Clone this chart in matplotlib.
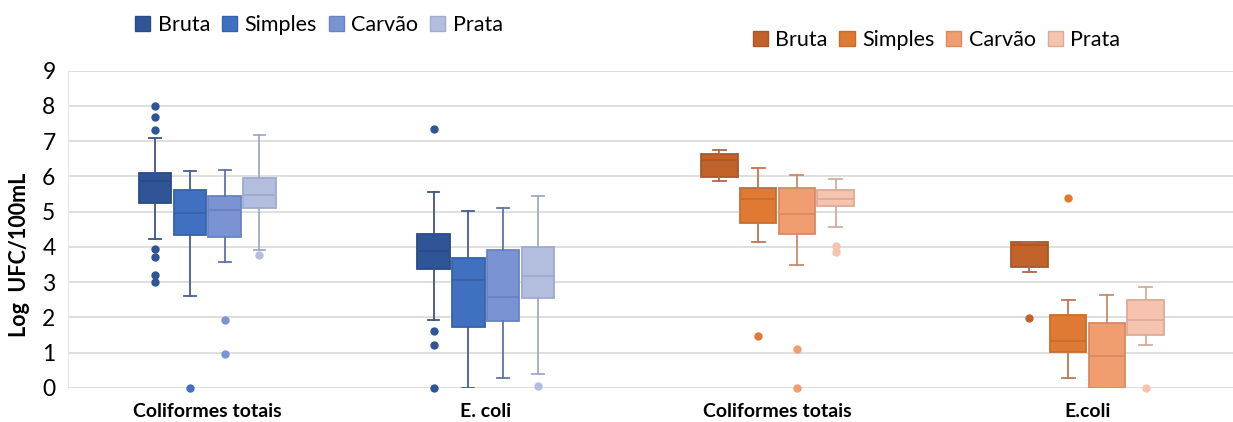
import matplotlib
matplotlib.use('Agg')
import matplotlib.pyplot as plt
from matplotlib.patches import Patch

plt.rcParams['font.family'] = ['Lato', 'DejaVu Sans']

series = ['Bruta', 'Simples', 'Carvão', 'Prata']
cats_left = ['Coliformes totais', 'E. coli']
cats_right = ['Coliformes totais', 'E.coli']
y_ticks = [0, 1, 2, 3, 4, 5, 6, 7, 8, 9]

# box stats, one row per category, one value per series
blue_whislo = [[4.21, 2.60, 3.57, 3.90], [1.94, 0.00, 0.29, 0.40]]
blue_q1 = [[5.25, 4.33, 4.28, 5.09], [3.38, 1.74, 1.89, 2.55]]
blue_med = [[5.87, 4.97, 5.05, 5.47], [3.88, 3.06, 2.59, 3.18]]
blue_q3 = [[6.10, 5.60, 5.45, 5.95], [4.36, 3.69, 3.91, 4.01]]
blue_whishi = [[7.10, 6.16, 6.18, 7.18], [5.57, 5.01, 5.09, 5.45]]
blue_fliers = [[[8.0, 7.67, 7.30, 3.93, 3.72, 3.20, 3.01], [0.0], [1.94, 0.95], [3.76]],
               [[7.33, 1.62, 1.21, 0.0], [], [], [0.05]]]

orange_whislo = [[5.87, 4.15, 3.48, 4.57], [3.29, 0.28, 0.00, 1.21]]
orange_q1 = [[5.98, 4.68, 4.37, 5.16], [3.42, 1.03, 0.00, 1.51]]
orange_med = [[6.45, 5.37, 4.92, 5.35], [4.05, 1.32, 0.92, 1.93]]
orange_q3 = [[6.64, 5.66, 5.66, 5.62], [4.15, 2.08, 1.83, 2.49]]
orange_whishi = [[6.76, 6.24, 6.05, 5.92], [4.15, 2.49, 2.65, 2.85]]
orange_fliers = [[[], [1.46], [1.11, 0.0], [4.02, 3.86]],
                 [[1.99], [5.39], [], [0.0]]]

blue_fill = ['#2f5597', '#4070c0', '#7a93d2', '#b3bedf']
blue_edge = ['#2a4b86', '#3561ad', '#6a83c2', '#9eaad0']
blue_whisk = ['#3d5285', '#445d99', '#5f73a8', '#a0a9c8']
orange_fill = ['#c0622a', '#e07a32', '#f09d6f', '#f6c3ae']
orange_edge = ['#a9582a', '#c66d30', '#d88a62', '#dcaa98']
orange_whisk = ['#b06a45', '#c07650', '#c98a6c', '#d6ad9c']

fig = plt.figure(figsize=(12.33, 4.22), dpi=100)
ax_l = fig.add_axes([68 / 1233, 1 - 388 / 422, 557 / 1233, 317.5 / 422])
ax_r = fig.add_axes([622.5 / 1233, 1 - 388 / 422, 620 / 1233, 317.5 / 422])


def draw(ax, whislo, q1, med, q3, whishi, fliers, fill, edge, whisk):
    step = 0.125
    for i in range(len(series)):
        stats = []
        for c in range(2):
            stats.append(dict(whislo=whislo[c][i], q1=q1[c][i], med=med[c][i],
                              q3=q3[c][i], whishi=whishi[c][i], fliers=fliers[c][i]))
        pos = [c + (i - 1.5) * step for c in range(2)]
        ax.bxp(stats, positions=pos, widths=0.117, patch_artist=True,
               showfliers=True, manage_ticks=False, capwidths=0.042,
               boxprops=dict(facecolor=fill[i], edgecolor=edge[i], linewidth=1.3),
               medianprops=dict(color=edge[i], linewidth=1.3),
               whiskerprops=dict(color=whisk[i], linewidth=1.3),
               capprops=dict(color=whisk[i], linewidth=1.3),
               flierprops=dict(marker='o', markersize=5, markerfacecolor=fill[i],
                               markeredgecolor=fill[i], clip_on=False))


draw(ax_l, blue_whislo, blue_q1, blue_med, blue_q3, blue_whishi, blue_fliers,
     blue_fill, blue_edge, blue_whisk)
draw(ax_r, orange_whislo, orange_q1, orange_med, orange_q3, orange_whishi, orange_fliers,
     orange_fill, orange_edge, orange_whisk)

for ax, cats in [(ax_l, cats_left), (ax_r, cats_right)]:
    ax.set_xlim(-0.5, 1.5)
    ax.set_ylim(0, 9)
    ax.set_yticks(y_ticks)
    ax.yaxis.grid(True, color='#d9d9d9', linewidth=1.2)
    ax.set_axisbelow(True)
    for s in ax.spines.values():
        s.set_visible(False)
    ax.set_xticks([0, 1])
    ax.set_xticklabels(cats, fontsize=14, fontweight='bold')
    ax.tick_params(axis='x', length=0, pad=11)
    ax.tick_params(axis='y', length=0, pad=9, labelsize=16.5)
    ax.patch.set_alpha(0)

ax_l.spines['left'].set_visible(True)
ax_l.spines['left'].set_color('#e6e6e6')
ax_r.tick_params(axis='y', labelleft=False)
ax_l.set_ylabel('Log  UFC/100mL', fontsize=15.5, fontweight='bold')
ax_l.yaxis.set_label_coords(-38 / 557, 0.42)

blue_handles = [Patch(facecolor=blue_fill[i], edgecolor=blue_edge[i], label=series[i])
                for i in range(len(series))]
orange_handles = [Patch(facecolor=orange_fill[i], edgecolor=orange_edge[i], label=series[i])
                  for i in range(len(series))]
leg_kw = dict(ncol=4, frameon=False, fontsize=15.5, handlelength=0.7, handleheight=0.7,
              handletextpad=0.35, columnspacing=0.55, loc='center')
fig.legend(handles=blue_handles, bbox_to_anchor=(319 / 1233, 1 - 25 / 422), **leg_kw)
fig.legend(handles=orange_handles, bbox_to_anchor=(936.5 / 1233, 1 - 40 / 422), **leg_kw)

fig.savefig('out.png', dpi=100)
